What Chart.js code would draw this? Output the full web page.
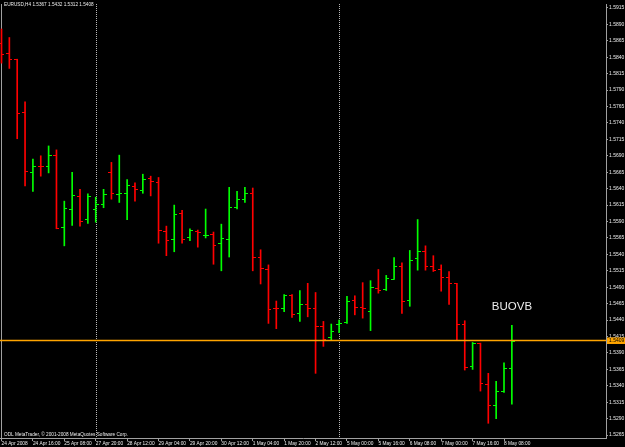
<!DOCTYPE html>
<html><head><meta charset="utf-8">
<script src="https://cdn.jsdelivr.net/npm/chart.js@4.4.0/dist/chart.umd.min.js"></script>
<style>html,body{margin:0;padding:0;background:#000;overflow:hidden}canvas{display:block}</style>
</head><body>
<canvas id="c" width="625" height="447"></canvas>
<script>
const symbol = 'EURUSD,H4';
const timeLabels = ['24 Apr 2008','24 Apr 16:00','25 Apr 08:00','27 Apr 20:00','28 Apr 12:00','29 Apr 04:00','29 Apr 20:00','30 Apr 12:00','1 May 04:00','1 May 20:00','2 May 12:00','5 May 00:00','5 May 16:00','6 May 08:00','7 May 00:00','7 May 16:00','8 May 08:00'];
const opens = [1.5861,1.5845,1.5836,1.5756,1.5664,1.5674,1.5674,1.5691,1.5581,1.5609,1.5628,1.5593,1.5608,1.5616,1.5664,1.5631,1.5632,1.5644,1.5637,1.5656,1.5650,1.5575,1.5563,1.5602,1.5565,1.5575,1.5568,1.5570,1.5556,1.5563,1.5611,1.5624,1.5633,1.5536,1.5517,1.5458,1.5458,1.5478,1.5450,1.5464,1.5458,1.5430,1.5413,1.5434,1.5436,1.5470,1.5459,1.5453,1.5488,1.5487,1.5502,1.5521,1.5470,1.5533,1.5544,1.5522,1.5517,1.5505,1.5496,1.5434,1.5369,1.5404,1.5342,1.5310,1.5332,1.5367];
const highs = [1.5883,1.5870,1.5837,1.5772,1.5685,1.5690,1.5705,1.5699,1.5621,1.5665,1.5639,1.5632,1.5627,1.5639,1.5680,1.5691,1.5654,1.5649,1.5662,1.5659,1.5657,1.5583,1.5615,1.5607,1.5579,1.5577,1.5609,1.5574,1.5586,1.5642,1.5636,1.5642,1.5641,1.5547,1.5524,1.5469,1.5479,1.5479,1.5485,1.5496,1.5482,1.5438,1.5434,1.5440,1.5476,1.5477,1.5497,1.5500,1.5517,1.5508,1.5535,1.5527,1.5546,1.5593,1.5553,1.5538,1.5524,1.5514,1.5496,1.5439,1.5406,1.5405,1.5359,1.5347,1.5375,1.5432];
const lows = [1.5831,1.5823,1.5716,1.5644,1.5636,1.5659,1.5664,1.5579,1.5553,1.5584,1.5583,1.5587,1.5589,1.5611,1.5624,1.5619,1.5593,1.5621,1.5633,1.5629,1.5557,1.5538,1.5544,1.5557,1.5561,1.5551,1.5565,1.5525,1.5515,1.5536,1.5609,1.5619,1.5515,1.5495,1.5435,1.5427,1.5453,1.5444,1.5438,1.5445,1.5359,1.5400,1.5410,1.5421,1.5435,1.5448,1.5443,1.5424,1.5481,1.5485,1.5502,1.5450,1.5461,1.5516,1.5516,1.5514,1.5484,1.5464,1.5409,1.5364,1.5365,1.5332,1.5283,1.5290,1.5330,1.5312];
const closes = [1.5844,1.5837,1.5755,1.5666,1.5673,1.5673,1.5690,1.5580,1.5610,1.5630,1.5590,1.5628,1.5616,1.5631,1.5632,1.5632,1.5645,1.5639,1.5654,1.5651,1.5577,1.5561,1.5601,1.5563,1.5576,1.5573,1.5569,1.5554,1.5564,1.5612,1.5624,1.5633,1.5535,1.5519,1.5456,1.5457,1.5477,1.5449,1.5464,1.5457,1.5430,1.5411,1.5422,1.5435,1.5468,1.5459,1.5458,1.5489,1.5485,1.5503,1.5521,1.5469,1.5531,1.5545,1.5522,1.5516,1.5505,1.5496,1.5434,1.5368,1.5405,1.5343,1.5310,1.5332,1.5367,1.5408];
const priceTicks = [1.5265,1.5290,1.5315,1.5340,1.5365,1.5390,1.5415,1.5440,1.5465,1.5490,1.5515,1.5540,1.5565,1.5590,1.5615,1.5640,1.5665,1.5690,1.5715,1.5740,1.5765,1.5790,1.5815,1.5840,1.5865,1.5890,1.5915];
const separators = [12, 43];
const bidPrice = 1.5409;
const note = {text: 'BUOVB', index: 62.45, price: 1.5460};
const copyright = 'ODL MetaTrader, \u00A9 2001-2008 MetaQuotes Software Corp.';

const BULL = '#00ff00', BEAR = '#ff0000', FG = '#ececec', AXIS = '#a0a0a0';
const FAMILY = '"Liberation Sans", Arial, sans-serif';
const SMALL = '5px ' + FAMILY;
const isBull = i => closes[i] > opens[i];

function tickImg(color, left) {
  const c = document.createElement('canvas'); c.width = 6; c.height = 1;
  const g = c.getContext('2d'); g.fillStyle = color; g.fillRect(left ? 0 : 3, 0, 3, 1);
  return c;
}
const imgs = {ol: tickImg(BULL, true), or: tickImg(BEAR, true), cl: tickImg(BULL, false), cr: tickImg(BEAR, false)};

const overlay = {
  id: 'overlay',
  beforeDatasetsDraw(chart) {
    const {ctx, chartArea: a, scales: {x}} = chart;
    ctx.save();
    ctx.strokeStyle = AXIS; ctx.lineWidth = 1;
    ctx.beginPath(); ctx.moveTo(1.5, a.top); ctx.lineTo(1.5, a.bottom); ctx.stroke();
    ctx.strokeStyle = '#b8b8b8'; ctx.setLineDash([1, 1]);
    separators.forEach(i => {
      const px = Math.round(x.getPixelForValue(i)) + 0.5;
      ctx.beginPath(); ctx.moveTo(px, a.top); ctx.lineTo(px, a.bottom); ctx.stroke();
    });
    ctx.restore();
  },
  afterDatasetsDraw(chart) {
    const {ctx, chartArea: a, scales: {x, y}} = chart;
    ctx.save();
    const py = y.getPixelForValue(bidPrice);
    ctx.strokeStyle = '#ffa500'; ctx.lineWidth = 1.4;
    ctx.beginPath(); ctx.moveTo(a.left, py); ctx.lineTo(a.right, py); ctx.stroke();
    ctx.fillStyle = FG; ctx.textBaseline = 'middle'; ctx.textAlign = 'left';
    ctx.font = '4.7px ' + FAMILY;
    const n = closes.length - 1;
    ctx.fillText(symbol + ' ' + [opens[n], highs[n], lows[n], closes[n]].map(v => v.toFixed(4)).join(' '), 4, 5);
    ctx.fillText(copyright, 4, 434.5);
    ctx.font = '11.5px ' + FAMILY;
    ctx.fillText(note.text, x.getPixelForValue(note.index), y.getPixelForValue(note.price));
    ctx.restore();
  },
  afterDraw(chart) {
    const {ctx, chartArea: a, scales: {y}} = chart;
    const py = y.getPixelForValue(bidPrice);
    ctx.save();
    ctx.fillStyle = '#ffa500';
    ctx.fillRect(a.right + 1, py - 3, 625 - a.right - 1, 6.5);
    ctx.fillStyle = '#000'; ctx.font = SMALL; ctx.textBaseline = 'middle'; ctx.textAlign = 'left';
    ctx.fillText(bidPrice.toFixed(4), a.right + 3, py + 0.3);
    ctx.restore();
  }
};

new Chart(document.getElementById('c'), {
  type: 'bar',
  data: {
    datasets: [
      {
        type: 'bar',
        data: highs.map((h, i) => ({x: i, y: [lows[i], h]})),
        backgroundColor: c => isBull(c.dataIndex) ? BULL : BEAR,
        borderWidth: 0,
        barThickness: 1,
        order: 2
      },
      {
        type: 'scatter',
        data: opens.map((o, i) => ({x: i, y: o})),
        pointStyle: c => isBull(c.dataIndex) ? imgs.ol : imgs.or,
        pointRadius: 2,
        showLine: false,
        order: 1
      },
      {
        type: 'scatter',
        data: closes.map((v, i) => ({x: i, y: v})),
        pointStyle: c => isBull(c.dataIndex) ? imgs.cl : imgs.cr,
        pointRadius: 2,
        showLine: false,
        order: 1
      }
    ]
  },
  options: {
    responsive: false,
    devicePixelRatio: 1,
    animation: false,
    events: [],
    layout: {padding: 0, autoPadding: false},
    plugins: {legend: {display: false}, tooltip: {enabled: false}, title: {display: false}},
    scales: {
      x: {
        type: 'linear',
        position: 'bottom',
        offset: false,
        min: -0.191,
        max: 76.99,
        afterBuildTicks: s => { s.ticks = timeLabels.map((_, k) => ({value: k * 4})); },
        afterFit: s => { s.height = 9; },
        grid: {display: true, offset: false, drawOnChartArea: false, drawTicks: true, tickLength: 3, color: AXIS},
        border: {display: true, color: AXIS},
        ticks: {
          autoSkip: false, maxRotation: 0, minRotation: 0, align: 'start', padding: 0,
          color: FG, font: {family: FAMILY, size: 4.8},
          callback: v => timeLabels[v / 4]
        }
      },
      y: {
        type: 'linear',
        position: 'right',
        min: 1.52606,
        max: 1.59210,
        afterBuildTicks: s => { s.ticks = priceTicks.map(v => ({value: v})); },
        afterFit: s => { s.width = 19; },
        grid: {display: true, drawOnChartArea: false, drawTicks: true, tickLength: 2, color: AXIS},
        border: {display: true, color: AXIS},
        ticks: {
          autoSkip: false, padding: 1, color: FG,
          font: {family: FAMILY, size: 5},
          callback: v => Number(v).toFixed(4)
        }
      }
    }
  },
  plugins: [overlay]
});
</script>
</body></html>
